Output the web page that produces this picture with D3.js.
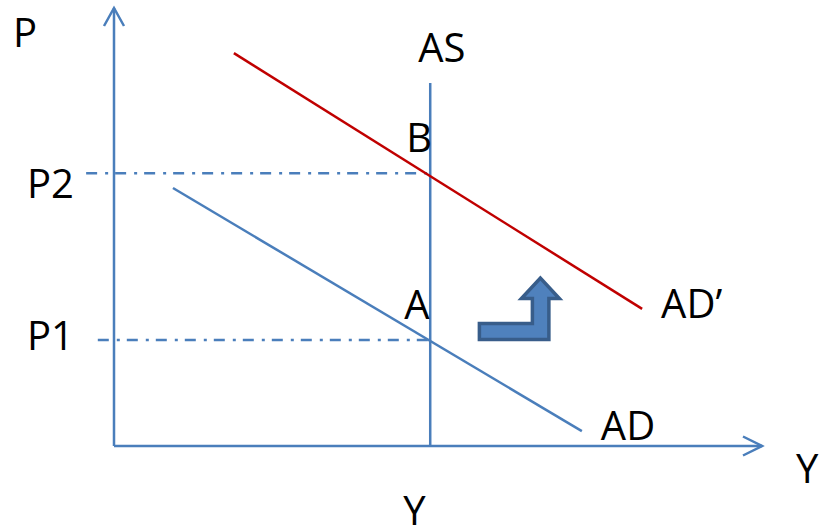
<!DOCTYPE html>
<html>
<head>
    <title>AS-AD shift with D3.js</title>
    <script src="https://d3js.org/d3.v7.min.js"></script>
    <style>
        body { margin: 0; background: #fff; }
        text { font-family: "Open Sans", "Liberation Sans", sans-serif; fill: #000; }
    </style>
</head>
<body>
    <div id="chart"></div>
    <script>
// values in chart units (Y output 0..100, P price level 0..100)
const priceLabels = ['P1', 'P2'];
const priceValues = [24.2, 62.3];
const dashStart = [-2.5, -4.3];
const outputFull = 48.8;
const asTop = 82.9;
const adPoints = [[9.1, 58.9], [72.2, 3.4]];
const adShiftPoints = [[18.5, 89.7], [81.5, 31.3]];
const pointLabels = ['A', 'B'];

const width = 821;
const height = 532;
const blue = '#4A7EBB';
const red = '#C00000';

const svg = d3.select('#chart')
    .append('svg')
    .attr('width', width)
    .attr('height', height);

const x = d3.scaleLinear().domain([0, 100]).range([114, 762]);
const y = d3.scaleLinear().domain([0, 100]).range([446, 8]);

const line = d3.line().x(d => x(d[0])).y(d => y(d[1]));

// axes with open arrow heads
svg.append('path')
    .attr('d', line([[0, 0], [0, 100]]))
    .attr('stroke', blue).attr('stroke-width', 2.5).attr('fill', 'none');
svg.append('path')
    .attr('d', `M${x(0) - 10},${y(100) + 18}L${x(0)},${y(100)}L${x(0) + 10},${y(100) + 18}`)
    .attr('stroke', blue).attr('stroke-width', 2.5).attr('fill', 'none');
svg.append('path')
    .attr('d', line([[0, 0], [100, 0]]))
    .attr('stroke', blue).attr('stroke-width', 2.5).attr('fill', 'none');
svg.append('path')
    .attr('d', `M${x(100) - 19},${y(0) - 9.5}L${x(100)},${y(0)}L${x(100) - 19},${y(0) + 9.5}`)
    .attr('stroke', blue).attr('stroke-width', 2.5).attr('fill', 'none');

// price level guides
svg.append('g')
    .selectAll('path')
    .data(priceValues)
    .enter()
    .append('path')
    .attr('d', (d, i) => line([[dashStart[i], d], [outputFull, d]]))
    .attr('stroke', blue)
    .attr('stroke-width', 2.5)
    .attr('stroke-dasharray', '11,8,3,7')
    .attr('fill', 'none');

// AS
svg.append('path')
    .attr('d', line([[outputFull, 0], [outputFull, asTop]]))
    .attr('stroke', blue).attr('stroke-width', 2.5).attr('fill', 'none');

// AD and AD'
svg.append('path')
    .attr('d', line(adPoints))
    .attr('stroke', blue).attr('stroke-width', 2.5).attr('fill', 'none');
svg.append('path')
    .attr('d', line(adShiftPoints))
    .attr('stroke', red).attr('stroke-width', 2.5).attr('fill', 'none');

// shift arrow
const ax = x(65.8), ay = y(24.2);
const arrow = d3.path();
arrow.moveTo(ax - 61, ay - 16.5);
arrow.lineTo(ax - 8, ay - 16.5);
arrow.lineTo(ax - 8, ay - 41.5);
arrow.lineTo(ax - 19, ay - 41.5);
arrow.lineTo(ax, ay - 62);
arrow.lineTo(ax + 19, ay - 41.5);
arrow.lineTo(ax + 8.5, ay - 41.5);
arrow.lineTo(ax + 8.5, ay - 0.5);
arrow.lineTo(ax - 61, ay - 0.5);
arrow.closePath();
svg.append('path')
    .attr('d', arrow.toString())
    .attr('fill', '#4F81BD')
    .attr('stroke', '#385D8A')
    .attr('stroke-width', 3.5)
    .attr('stroke-linejoin', 'miter');

// labels
const fs = 40;
const labels = svg.append('g').attr('font-size', fs);
labels.append('text').attr('x', x(0) - 101).attr('y', y(100) + 39).text('P');
labels.append('text').attr('x', x(100) + 34).attr('y', y(0) + 37).text('Y');
labels.append('text').attr('x', x(outputFull) - 27).attr('y', y(0) + 79).text('Y');
labels.append('text').attr('x', x(outputFull) - 12).attr('y', y(asTop) - 21).text('AS');
labels.selectAll('.plab')
    .data(priceLabels)
    .enter()
    .append('text')
    .attr('x', x(0) - 87)
    .attr('y', (d, i) => y(priceValues[i]) + (i === 0 ? 10 : 25))
    .text(d => d);
labels.selectAll('.pt')
    .data(pointLabels)
    .enter()
    .append('text')
    .attr('x', (d, i) => x(outputFull) - (i === 0 ? 26 : 24))
    .attr('y', (d, i) => y(priceValues[i]) - 21)
    .text(d => d);
labels.append('text').attr('x', x(adPoints[1][0]) + 19).attr('y', y(adPoints[1][1]) + 9).text('AD');
labels.append('text').attr('x', x(adShiftPoints[1][0]) + 19).attr('y', y(adShiftPoints[1][1]) + 9).text('AD\u2019');
    </script>
</body>
</html>
